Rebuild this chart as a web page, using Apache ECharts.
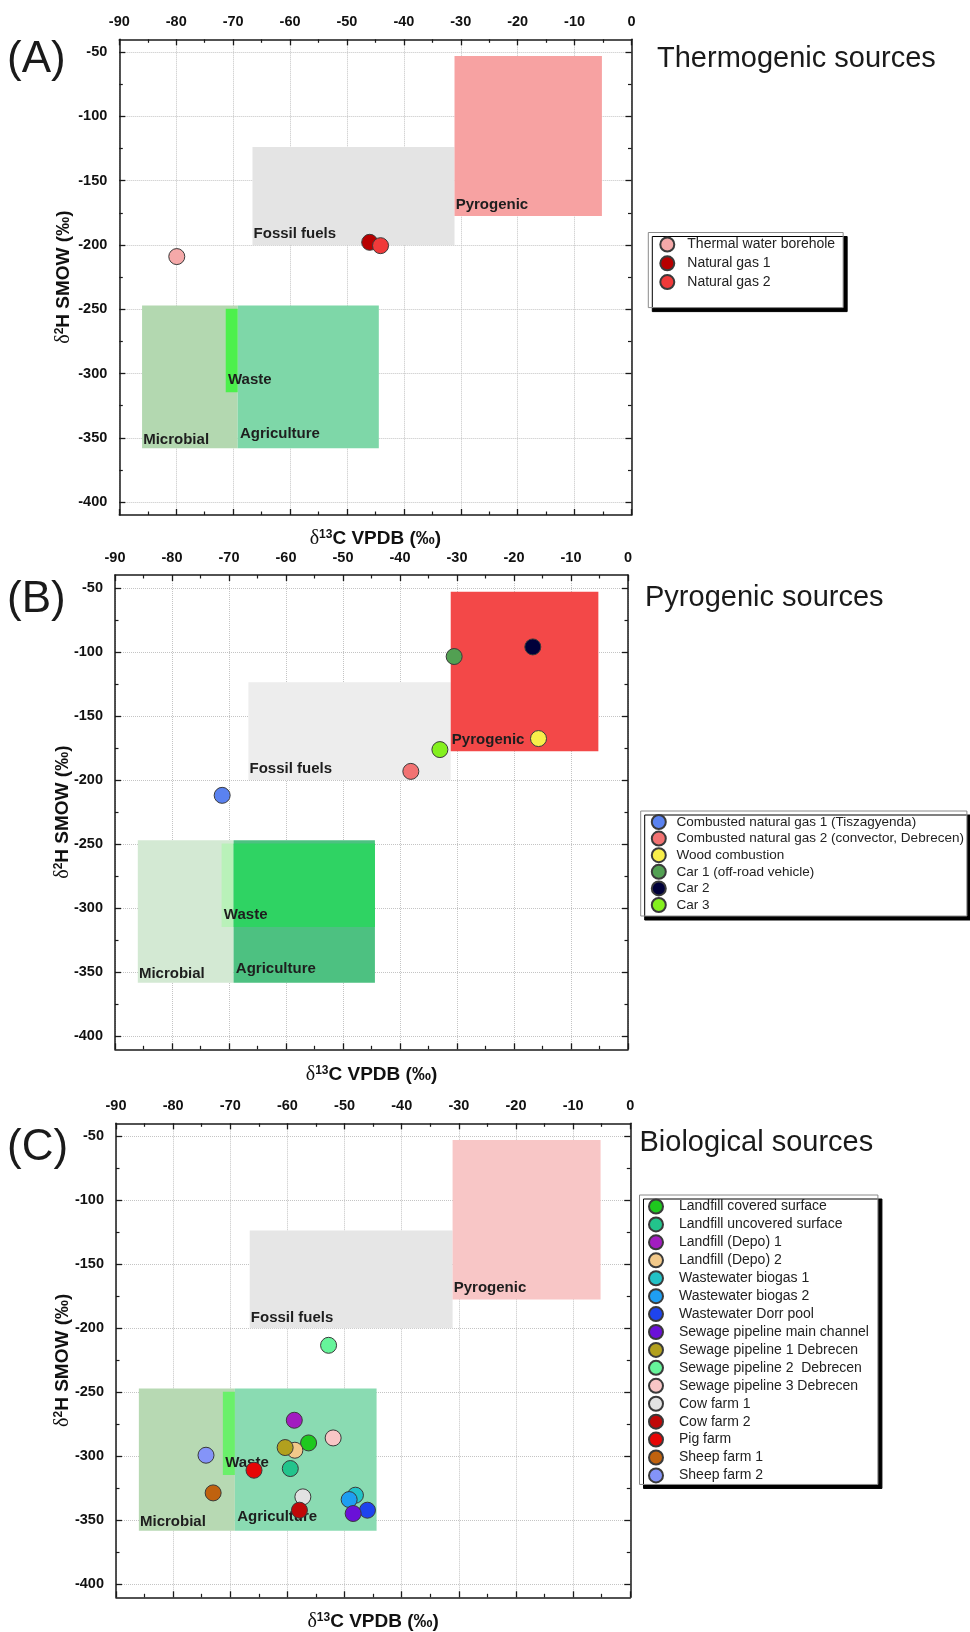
<!DOCTYPE html>
<html><head><meta charset="utf-8">
<script src="https://cdn.jsdelivr.net/npm/echarts@6/dist/echarts.min.js"></script>
<style>html,body{margin:0;padding:0;background:#fff}#c{width:970px;height:1632px}</style>
</head><body><div id="c"></div>
<script>
// ---------------- data ----------------
const c13Ticks = [-90,-80,-70,-60,-50,-40,-30,-20,-10,0];
const h2Ticks = [-400,-350,-300,-250,-200,-150,-100,-50];
const h2MinorTicks = [-375,-325,-275,-225,-175,-125,-75];

const regionNames = ['Microbial','Agriculture','Waste','Fossil fuels','Pyrogenic'];
const regionC13Min = [-86.0,-69.2,-71.3,-66.6,-31.1];
const regionC13Max = [-69.2,-44.4,-69.2,-31.1,-5.2];
const regionH2Min = [-358,-358,-314.5,-200,-177.5];
const regionH2Max = [-247,-247,-249.5,-123.7,-53];
const regionLabelC13 = [-85.8,-68.8,-70.9,-66.4,-30.9];
const regionLabelH2 = [-351.2,-347.2,-305,-191.5,-168.8];

const thermoNames = ['Thermal water borehole','Natural gas 1','Natural gas 2'];
const thermoC13 = [-79.9,-46.0,-44.1];
const thermoH2 = [-209.0,-197.9,-200.5];

const pyroNames = ['Combusted natural gas 1 (Tiszagyenda)','Combusted natural gas 2 (convector, Debrecen)','Wood combustion','Car 1 (off-road vehicle)','Car 2','Car 3'];
const pyroC13 = [-71.2,-38.1,-15.7,-30.5,-16.7,-33.0];
const pyroH2 = [-211.9,-193.2,-167.6,-103.6,-96.1,-176.2];

const bioNames = ['Landfill covered surface','Landfill uncovered surface','Landfill (Depo) 1','Landfill (Depo) 2','Wastewater biogas 1','Wastewater biogas 2','Wastewater Dorr pool','Sewage pipeline main channel','Sewage pipeline 1 Debrecen','Sewage pipeline 2  Debrecen','Sewage pipeline 3 Debrecen','Cow farm 1','Cow farm 2','Pig farm','Sheep farm 1','Sheep farm 2'];
const bioC13 = [-56.3,-59.5,-58.8,-58.7,-48.1,-49.2,-46.0,-48.5,-60.4,-52.8,-52.0,-57.3,-57.9,-65.85,-73.0,-74.25];
const bioH2 = [-289.5,-309.5,-271.8,-295.2,-330.3,-333.7,-342.0,-344.6,-293.1,-213.3,-285.6,-331.6,-342.0,-310.8,-328.5,-299.1];

// ---------------- styles ----------------
const thermoColors = ['#f5a9a9','#b80000','#f03a3a'];
const pyroColors = ['#5a82f0','#f27272','#f8ee4a','#52a052','#00003a','#84f01e'];
const bioColors = ['#1ec81e','#22c48c','#a21cc0','#f2c98a','#22c2c6','#1e9ef2','#1e44ee','#6a10d8','#b2a01e','#66f49a','#f8c6c6','#e2e2e2','#c00808','#e60606','#c0620e','#8494f8'];
const regionColorsA = ['#b3d8b0','#7ed7a8','#4cf04c','#e4e4e4','#f7a2a2'];
const regionColorsB = ['#d3e9d3','#4dc181','#b9f1b9','#ededed','#f34848'];
const regionColorsC = ['#b7d9b3','#8adbb2','#6af06a','#e6e6e6','#f8c6c6'];

const FONT = 'Liberation Sans';
const grids = [
  {left:119.3, top:39.3, width:512.2, height:475.7},
  {left:115, top:575, width:513, height:474.3},
  {left:116, top:1123.3, width:514.3, height:474}
];
const yNameGaps = [46, 42, 43];
const xNameGaps = [14, 15, 14];

const lineCol = '#1a1a1a';
const xName = '{d|δ}{s|13}{b|C VPDB (‰)}';
const yName = '{d|δ}{s|2}{b|H SMOW (‰)}';
const nameRich = {
  d:{fontFamily:'Liberation Serif', fontSize:20, fontWeight:'normal', color:'#111'},
  s:{fontFamily:FONT, fontSize:12, fontWeight:'bold', color:'#111', verticalAlign:'top'},
  b:{fontFamily:FONT, fontSize:19, fontWeight:'bold', color:'#111'}
};

const xAxes = [], yAxes = [];
grids.forEach((g, gi) => {
  const common = {
    gridIndex: gi, type:'value', min:-90, max:0, interval:10,
    axisLine:{show:true, onZero:false, lineStyle:{color:lineCol, width:1.5}},
    axisTick:{show:true, inside:true, length:6, lineStyle:{color:lineCol, width:1.3}},
    minorTick:{show:true, splitNumber:2, length:3.5, lineStyle:{color:lineCol, width:1.2}}
  };
  xAxes.push(Object.assign({}, common, {
    position:'top',
    axisLabel:{show:true, margin:10, fontSize:14.5, fontWeight:'bold', color:'#111', fontFamily:FONT, showMinLabel:true, showMaxLabel:true},
    splitLine:{show:true, lineStyle:{color:'#c4c4c4', type:'dotted', width:1}}
  }));
  xAxes.push(Object.assign({}, common, {
    position:'bottom',
    axisLabel:{show:false}, splitLine:{show:false},
    name:xName, nameLocation:'middle', nameGap:xNameGaps[gi], nameMoveOverlap:false,
    nameTextStyle:{rich:nameRich}
  }));
  const ycommon = {gridIndex: gi, type:'value', min:-410, max:-40};
  yAxes.push(Object.assign({}, ycommon, {
    position:'left',
    axisLine:{show:true, onZero:false, lineStyle:{color:lineCol, width:1.5}},
    axisTick:{show:true, inside:true, length:6, customValues:h2Ticks, lineStyle:{color:lineCol, width:1.3}},
    axisLabel:{show:true, margin:12, customValues:h2Ticks, fontSize:14.5, fontWeight:'bold', color:'#111', fontFamily:FONT},
    splitLine:{show:true, lineStyle:{color:'#c4c4c4', type:'dotted', width:1}},
    name:yName, nameLocation:'middle', nameGap:yNameGaps[gi], nameMoveOverlap:false,
    nameTextStyle:{rich:nameRich}
  }));
  yAxes.push(Object.assign({}, ycommon, {
    position:'right',
    axisLine:{show:true, onZero:false, lineStyle:{color:lineCol, width:1.5}},
    axisTick:{show:true, inside:true, length:6, customValues:h2Ticks, lineStyle:{color:lineCol, width:1.3}},
    axisLabel:{show:false}, splitLine:{show:false}
  }));
  ['left','right'].forEach(pos => {
    yAxes.push(Object.assign({}, ycommon, {
      position:pos,
      axisLine:{show:false, onZero:false},
      axisTick:{show:true, inside:true, length:3.5, customValues:h2MinorTicks, lineStyle:{color:lineCol, width:1.2}},
      axisLabel:{show:false}, splitLine:{show:false}
    }));
  });
});

function regionSeries(gi, colors, wasteOverAgri) {
  return {
    type:'custom', xAxisIndex:2*gi, yAxisIndex:4*gi, z:1, silent:true, animation:false,
    data: regionNames.map((n, i) => [i]),
    renderItem: (params, api) => {
      const i = api.value(0);
      const tl = api.coord([regionC13Min[i], regionH2Max[i]]);
      const br = api.coord([regionC13Max[i], regionH2Min[i]]);
      const children = [{type:'rect', shape:{x:tl[0], y:tl[1], width:br[0]-tl[0], height:br[1]-tl[1]}, style:{fill:colors[i]}}];
      if (wasteOverAgri && regionNames[i] === 'Waste') {
        const a = api.coord([regionC13Max[i], regionH2Max[i]]);
        const b = api.coord([regionC13Max[1], regionH2Min[i]]);
        children.push({type:'rect', shape:{x:a[0], y:a[1], width:b[0]-a[0], height:b[1]-a[1]}, style:{fill:wasteOverAgri}});
      }
      const lp = api.coord([regionLabelC13[i], regionLabelH2[i]]);
      children.push({type:'text', x:lp[0], y:lp[1], z2:10, style:{text:regionNames[i], fill:'#1e1e1e', font:'bold 15px "Liberation Sans"', align:'left', verticalAlign:'middle'}});
      return {type:'group', children};
    }
  };
}

function pointSeries(gi, names, c13, h2, colors) {
  return names.map((n, i) => ({
    type:'scatter', name:n, xAxisIndex:2*gi, yAxisIndex:4*gi, z:3,
    symbol:'circle', symbolSize:16,
    data:[[c13[i], h2[i]]],
    itemStyle:{color:colors[i], borderColor:'#3a3a3a', borderWidth:1, opacity:1},
    emphasis:{disabled:true}
  }));
}

const series = [
  regionSeries(0, regionColorsA, null),
  regionSeries(1, regionColorsB, '#2fd363'),
  regionSeries(2, regionColorsC, null)
].concat(
  pointSeries(0, thermoNames, thermoC13, thermoH2, thermoColors),
  pointSeries(1, pyroNames, pyroC13, pyroH2, pyroColors),
  pointSeries(2, bioNames, bioC13, bioH2, bioColors)
);

const legendBase = {
  orient:'vertical', icon:'circle', itemHeight:14, align:'left', selectedMode:false,
  backgroundColor:'#fff', borderColor:'#8a8a8a', borderWidth:1,
  shadowColor:'#000', shadowOffsetX:4, shadowOffsetY:4, shadowBlur:0
};
const legends = [
  Object.assign({}, legendBase, {left:648.3, top:232.5, data:thermoNames, itemWidth:30, itemGap:2.8, padding:[4,8,17.5,11],
    textStyle:{fontSize:14, color:'#222', fontFamily:FONT}}),
  Object.assign({}, legendBase, {left:640.7, top:811, data:pyroNames, itemWidth:25.4, itemGap:0.6, padding:[3,3,3,10.1],
    textStyle:{fontSize:13.5, color:'#222', fontFamily:FONT}}),
  Object.assign({}, legendBase, {left:639.5, top:1195, data:bioNames, itemWidth:30, itemGap:1.93, padding:[3.5,9,1,8.5],
    textStyle:{fontSize:14, color:'#222', fontFamily:FONT, padding:[0,0,0,3]}})
];

const titleStyle = (size) => ({fontSize:size, fontWeight:'normal', color:'#1a1a1a', fontFamily:FONT});
const titles = [
  {text:'(A)', left:7, top:38, padding:0, textStyle:titleStyle(44)},
  {text:'(B)', left:7, top:578, padding:0, textStyle:titleStyle(44)},
  {text:'(C)', left:7, top:1125.5, padding:0, textStyle:titleStyle(44)},
  {text:'Thermogenic sources', left:657, top:44, padding:0, textStyle:titleStyle(29)},
  {text:'Pyrogenic sources', left:645, top:583, padding:0, textStyle:titleStyle(29)},
  {text:'Biological sources', left:639.5, top:1128.5, padding:0, textStyle:titleStyle(29)}
];

const chart = echarts.init(document.getElementById('c'), null, {renderer:'canvas'});
chart.setOption({
  animation:false,
  backgroundColor:'#fff',
  title:titles,
  legend:legends,
  grid:grids.map(g => Object.assign({containLabel:false, outerBoundsMode:'none'}, g)),
  xAxis:xAxes,
  yAxis:yAxes,
  series:series
});
</script>
</body></html>
